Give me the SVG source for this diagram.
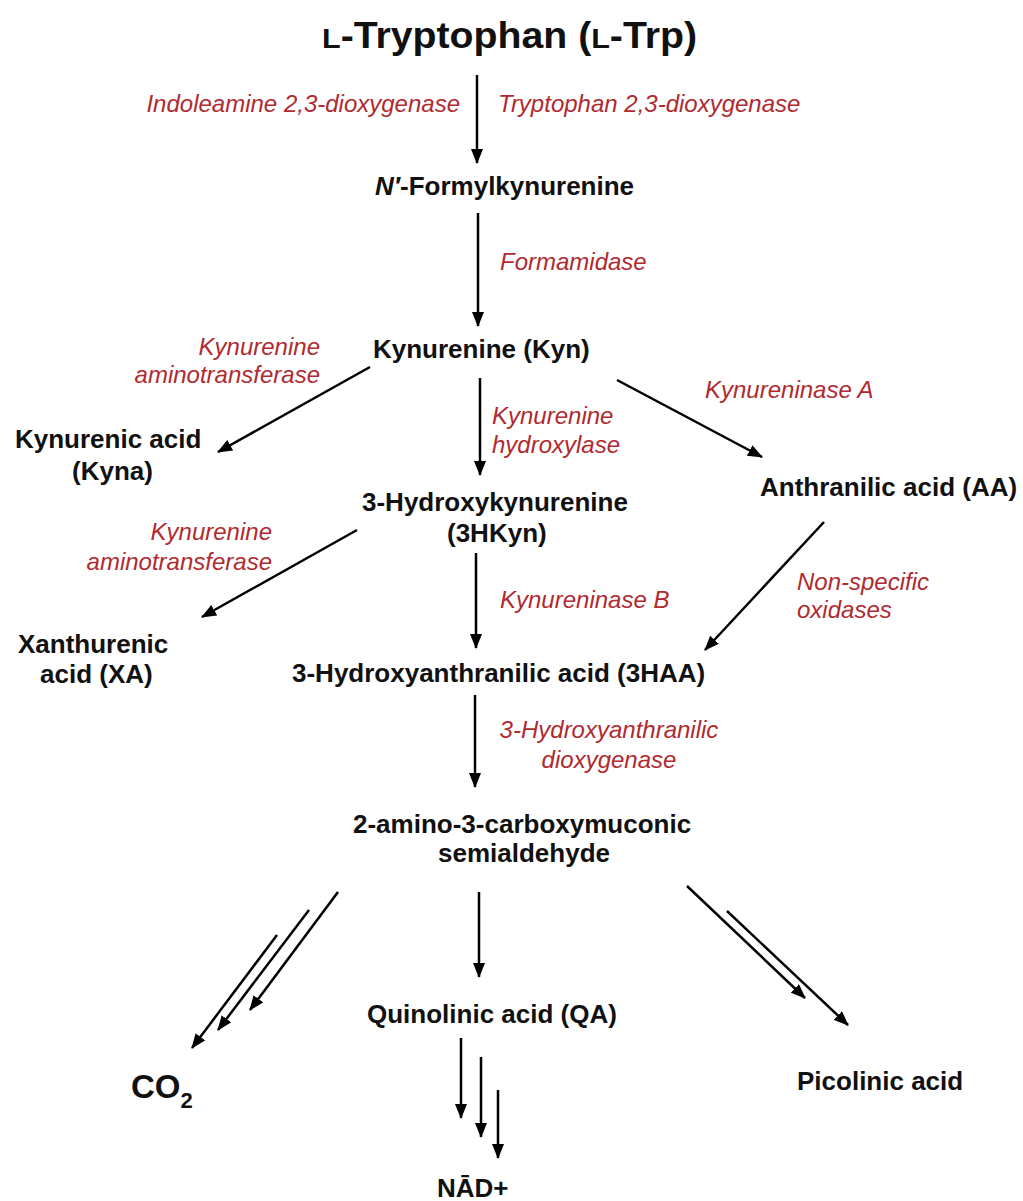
<svg xmlns="http://www.w3.org/2000/svg" width="1023" height="1201" viewBox="0 0 1023 1201">
<style>
.n{font-family:"Liberation Sans",Arial,Helvetica,sans-serif;font-weight:bold;font-size:26px;fill:#111}
.e{font-family:"Liberation Sans",Arial,Helvetica,sans-serif;font-style:italic;font-size:24px;fill:#B02A30}
.c line{stroke:#000;stroke-width:2.5;marker-end:url(#ah)}
</style>
<defs>
<marker id="ah" markerUnits="userSpaceOnUse" markerWidth="16" markerHeight="12" refX="14" refY="6" orient="auto"><path d="M0,0 L15,6 L0,12 z" fill="#000"/></marker>
</defs>
<rect width="1023" height="1201" fill="#fff"/>
<g id="connectors" class="c">
<line x1="477" y1="75" x2="477" y2="163"/>
<line x1="478" y1="213" x2="478" y2="326"/>
<line x1="370" y1="367" x2="218" y2="452"/>
<line x1="480" y1="378" x2="480" y2="475"/>
<line x1="617" y1="380" x2="762" y2="457"/>
<line x1="357" y1="530" x2="202" y2="617"/>
<line x1="476" y1="553" x2="476" y2="648"/>
<line x1="824" y1="522" x2="705" y2="650"/>
<line x1="475" y1="695" x2="475" y2="787"/>
<line x1="338" y1="892" x2="250" y2="1010"/>
<line x1="309" y1="910" x2="218" y2="1030"/>
<line x1="277" y1="935" x2="192" y2="1048"/>
<line x1="479" y1="892" x2="479" y2="977"/>
<line x1="687" y1="886" x2="805" y2="998"/>
<line x1="727" y1="911" x2="848" y2="1025"/>
<line x1="461" y1="1038" x2="461" y2="1118"/>
<line x1="481" y1="1057" x2="481" y2="1137"/>
<line x1="498" y1="1090" x2="498" y2="1158"/>
</g>
<g id="trp"><text class="n" x="322" y="48" style="font-size:36px" textLength="375" lengthAdjust="spacingAndGlyphs"><tspan style="font-size:28px">L</tspan>-Tryptophan (<tspan style="font-size:28px">L</tspan>-Trp)</text></g>
<g id="nfk"><text class="n" x="375" y="195"><tspan font-style="italic">N′</tspan>-Formylkynurenine</text></g>
<g id="kyn"><text class="n" x="373" y="358">Kynurenine (Kyn)</text></g>
<g id="kyna"><text class="n" x="15" y="448">Kynurenic acid</text><text class="n" x="72" y="480">(Kyna)</text></g>
<g id="aa"><text class="n" x="760" y="496">Anthranilic acid (AA)</text></g>
<g id="hkyn"><text class="n" x="362" y="511">3-Hydroxykynurenine</text><text class="n" x="447" y="542">(3HKyn)</text></g>
<g id="xa"><text class="n" x="18" y="653">Xanthurenic</text><text class="n" x="40" y="683">acid (XA)</text></g>
<g id="haa"><text class="n" x="292" y="682">3-Hydroxyanthranilic acid (3HAA)</text></g>
<g id="acms"><text class="n" x="353" y="833">2-amino-3-carboxymuconic</text><text class="n" x="438" y="862">semialdehyde</text></g>
<g id="co2"><text class="n" x="131" y="1098" style="font-size:33px">CO<tspan style="font-size:22px" dy="10">2</tspan></text></g>
<g id="qa"><text class="n" x="367" y="1023">Quinolinic acid (QA)</text></g>
<g id="pic"><text class="n" x="797" y="1090">Picolinic acid</text></g>
<g id="nad"><text class="n" x="437" y="1197">NĀD+</text></g>
<g id="enzymes">
<text class="e" x="460" y="112" text-anchor="end">Indoleamine 2,3-dioxygenase</text>
<text class="e" x="498" y="112">Tryptophan 2,3-dioxygenase</text>
<text class="e" x="500" y="270">Formamidase</text>
<text class="e" x="320" y="355" text-anchor="end">Kynurenine</text>
<text class="e" x="320" y="383" text-anchor="end">aminotransferase</text>
<text class="e" x="492" y="424">Kynurenine</text>
<text class="e" x="492" y="453">hydroxylase</text>
<text class="e" x="705" y="398">Kynureninase A</text>
<text class="e" x="272" y="540" text-anchor="end">Kynurenine</text>
<text class="e" x="272" y="570" text-anchor="end">aminotransferase</text>
<text class="e" x="500" y="608">Kynureninase B</text>
<text class="e" x="797" y="590">Non-specific</text>
<text class="e" x="797" y="618">oxidases</text>
<text class="e" x="609" y="738" text-anchor="middle">3-Hydroxyanthranilic</text>
<text class="e" x="609" y="768" text-anchor="middle">dioxygenase</text>
</g>
</svg>
